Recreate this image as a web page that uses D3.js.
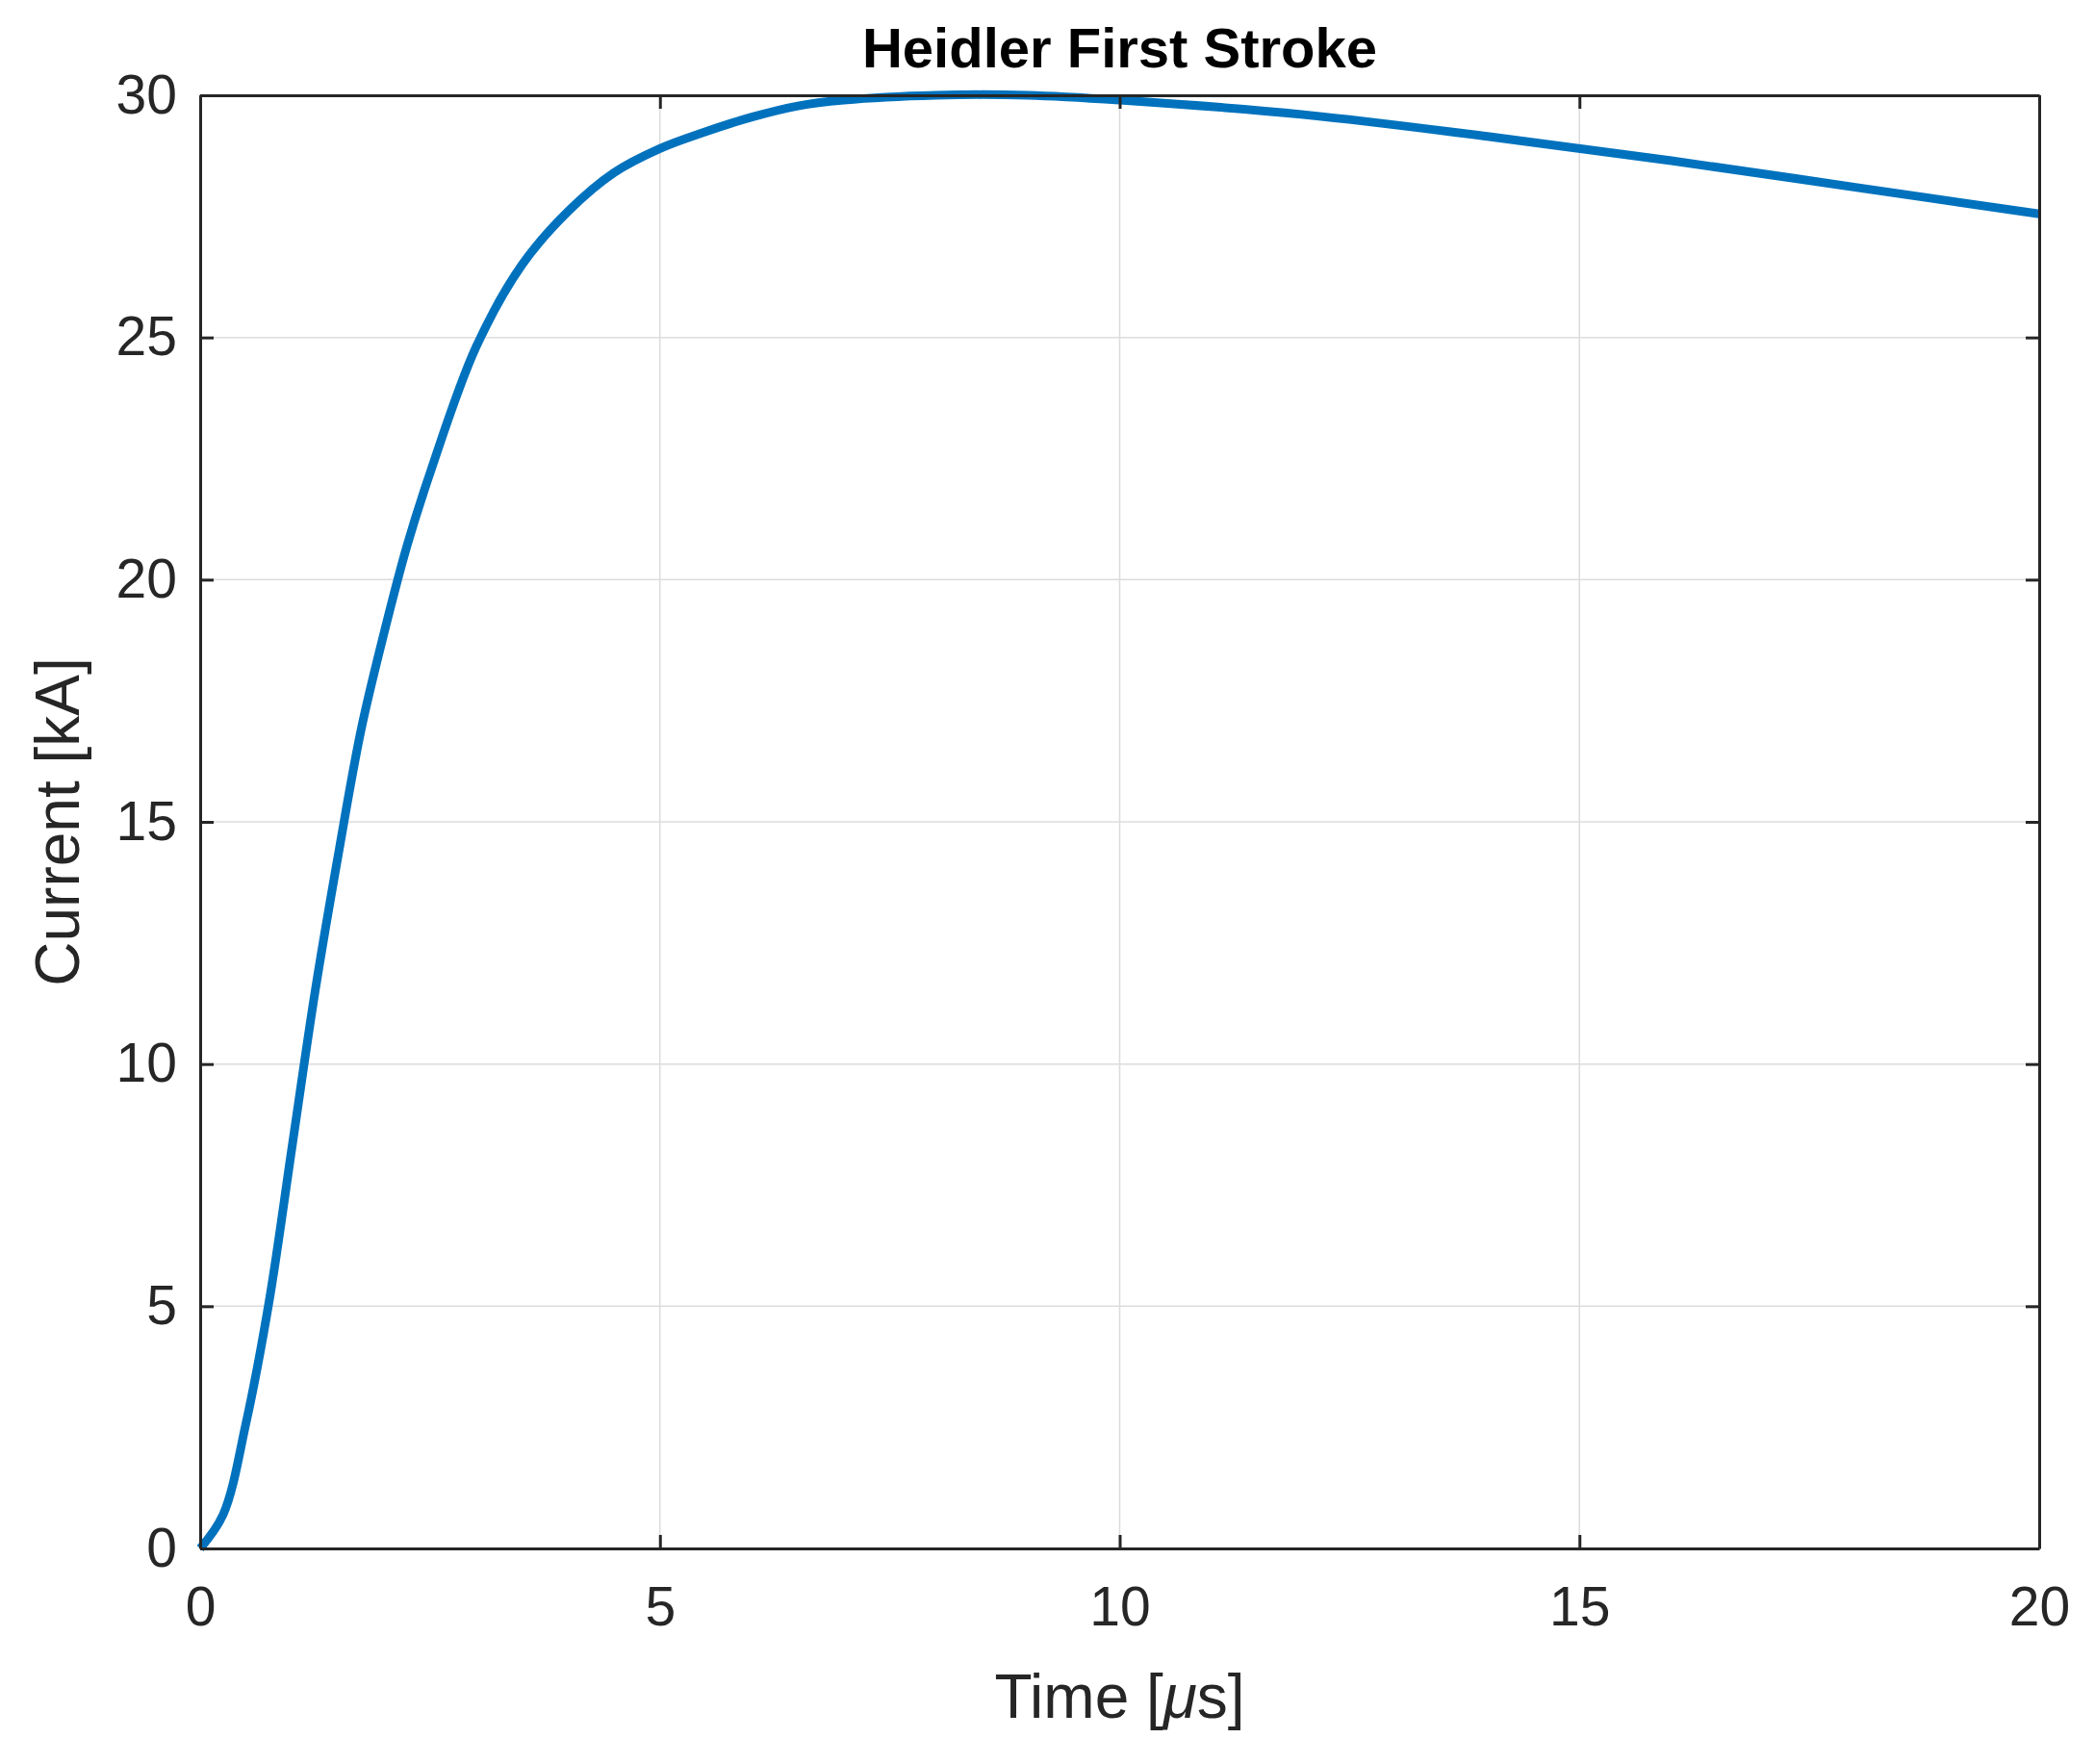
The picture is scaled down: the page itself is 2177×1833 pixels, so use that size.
<!DOCTYPE html>
<html><head><meta charset="utf-8">
<script src="https://cdn.jsdelivr.net/npm/d3@7"></script>
<style>body{margin:0;background:#fff}svg text{font-family:Arial,"Liberation Sans",sans-serif}</style>
</head><body><div id="chart"></div>
<script>
const timeUs = [0,0.25,0.5,0.75,1,1.25,1.5,1.75,2,2.25,2.5,3,3.5,4,4.5,5,5.5,6,6.5,7,8,9,10,12,14,16,18,20];
const currentKA = [0,0.7,2.6,5.1,8.3,11.5,14.3,16.9,18.9,20.7,22.2,24.8,26.5,27.6,28.4,28.9,29.25,29.55,29.78,29.9,30,30,29.9,29.6,29.15,28.65,28.1,27.55];
const xTicks = [0,5,10,15,20];
const yTicks = [0,5,10,15,20,25,30];

const W = 2177, H = 1833;
const m = {left: 208, top: 99, right: 2177-2119, bottom: 1833-1609};
const svg = d3.select('#chart').append('svg').attr('width', W).attr('height', H);
const x = d3.scaleLinear().domain([0,20]).range([m.left, W-m.right]);
const y = d3.scaleLinear().domain([0,30]).range([H-m.bottom, m.top]);

// grid
svg.append('g').selectAll('line').data(xTicks).join('line')
  .attr('x1', d=>x(d)).attr('x2', d=>x(d)).attr('y1', y(0)).attr('y2', y(30))
  .attr('stroke', '#dcdcdc').attr('stroke-width', 1.5);
svg.append('g').selectAll('line').data(yTicks).join('line')
  .attr('y1', d=>y(d)).attr('y2', d=>y(d)).attr('x1', x(0)).attr('x2', x(20))
  .attr('stroke', '#dcdcdc').attr('stroke-width', 1.5);

// curve
const line = d3.line().x((d,i)=>x(timeUs[i])).y(d=>y(d)).curve(d3.curveCatmullRom.alpha(0.5));
svg.append('path').datum(currentKA).attr('d', line)
  .attr('fill', 'none').attr('stroke', '#0072BD').attr('stroke-width', 9);

// axes, ticks inward on all sides
const tk = 14;
const axB = svg.append('g').attr('transform', `translate(0,${y(0)})`)
  .call(d3.axisBottom(x).tickValues(xTicks).tickSizeInner(-tk).tickSizeOuter(0).tickPadding(40));
const axL = svg.append('g').attr('transform', `translate(${x(0)},0)`)
  .call(d3.axisLeft(y).tickValues(yTicks).tickSizeInner(-tk).tickSizeOuter(0).tickPadding(24));
const axT = svg.append('g').attr('transform', `translate(0,${y(30)})`)
  .call(d3.axisTop(x).tickValues(xTicks).tickSizeInner(-tk).tickSizeOuter(0).tickFormat(''));
const axR = svg.append('g').attr('transform', `translate(${x(20)},0)`)
  .call(d3.axisRight(y).tickValues(yTicks).tickSizeInner(-tk).tickSizeOuter(0).tickFormat(''));
[axB, axL, axT, axR].forEach(a => {
  a.selectAll('path,line').attr('stroke', '#262626').attr('stroke-width', 3);
  a.selectAll('text').attr('font-size', 57).attr('fill', '#262626');
});

svg.append('text').attr('x', (x(0)+x(20))/2).attr('y', 70).attr('text-anchor', 'middle')
  .attr('font-size', 58).attr('font-weight', 'bold').attr('fill', '#000').text('Heidler First Stroke');
svg.append('text').attr('x', (x(0)+x(20))/2).attr('y', 1785).attr('text-anchor', 'middle')
  .attr('font-size', 64).attr('fill', '#262626')
  .html('Time [<tspan font-style="italic">μ</tspan>s]');
svg.append('text').attr('transform', `translate(82,${(y(0)+y(30))/2}) rotate(-90)`)
  .attr('text-anchor', 'middle').attr('font-size', 64).attr('fill', '#262626').text('Current [kA]');
</script></body></html>
